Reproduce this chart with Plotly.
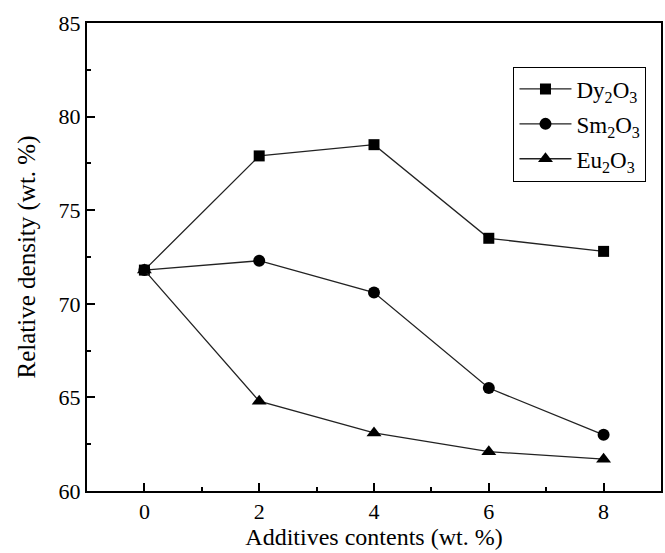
import plotly.graph_objects as go

additives = [0, 2, 4, 6, 8]
dy2o3 = [71.8, 77.9, 78.5, 73.5, 72.8]
sm2o3 = [71.8, 72.3, 70.6, 65.5, 63.0]
eu2o3 = [71.8, 64.8, 63.1, 62.1, 61.7]

x_ticks = [0, 2, 4, 6, 8]
y_ticks = [60, 65, 70, 75, 80, 85]

FONT = "Liberation Serif, Times New Roman, serif"

series = [
    ("Dy<sub>2</sub>O<sub>3</sub>", dy2o3, "square", 11),
    ("Sm<sub>2</sub>O<sub>3</sub>", sm2o3, "circle", 12),
    ("Eu<sub>2</sub>O<sub>3</sub>", eu2o3, "triangle-up", 13),
]

fig = go.Figure()
for i, (name, vals, sym, size) in enumerate(series):
    fig.add_trace(go.Scatter(
        x=additives, y=vals, name=name, mode="lines+markers",
        legendgroup="g%d" % i,
        line=dict(color="#222222", width=1.3),
        marker=dict(symbol=sym, size=size, color="black"),
    ))

axis_common = dict(
    showline=True, linecolor="black", linewidth=2, mirror=True,
    ticks="inside", ticklen=8, tickwidth=2, tickcolor="black",
    showgrid=False, zeroline=False,
    tickfont=dict(family=FONT, size=22, color="black"),
)

fig.update_xaxes(
    range=[-1, 9], tickvals=x_ticks, ticktext=[str(v) for v in x_ticks],
    minor=dict(ticks="inside", ticklen=4, tickwidth=2, tickcolor="black", dtick=1, tick0=0),
    title=dict(text="Additives contents (wt. %)", font=dict(family=FONT, size=24, color="black"), standoff=4),
    **axis_common,
)
fig.update_yaxes(
    range=[60, 85], tickvals=y_ticks, ticktext=[str(v) for v in y_ticks],
    minor=dict(ticks="inside", ticklen=4, tickwidth=2, tickcolor="black", dtick=2.5, tick0=60),
    title=dict(text="Relative density (wt. %)", font=dict(family=FONT, size=25, color="black"), standoff=16),
    **axis_common,
)

fig.update_layout(
    width=665, height=553,
    margin=dict(l=87, r=2, t=23, b=62),
    plot_bgcolor="white", paper_bgcolor="white",
    font=dict(family=FONT, color="black"),
    legend=dict(
        x=0.743, y=0.907, xanchor="left", yanchor="top",
        bordercolor="black", borderwidth=1, bgcolor="white",
        font=dict(family=FONT, size=23, color="black"),
        itemwidth=52, tracegroupgap=2, traceorder="grouped",
    ),
)

fig.write_html("out.html", config={"displayModeBar": False},
               post_script="document.body.style.margin='0';")
